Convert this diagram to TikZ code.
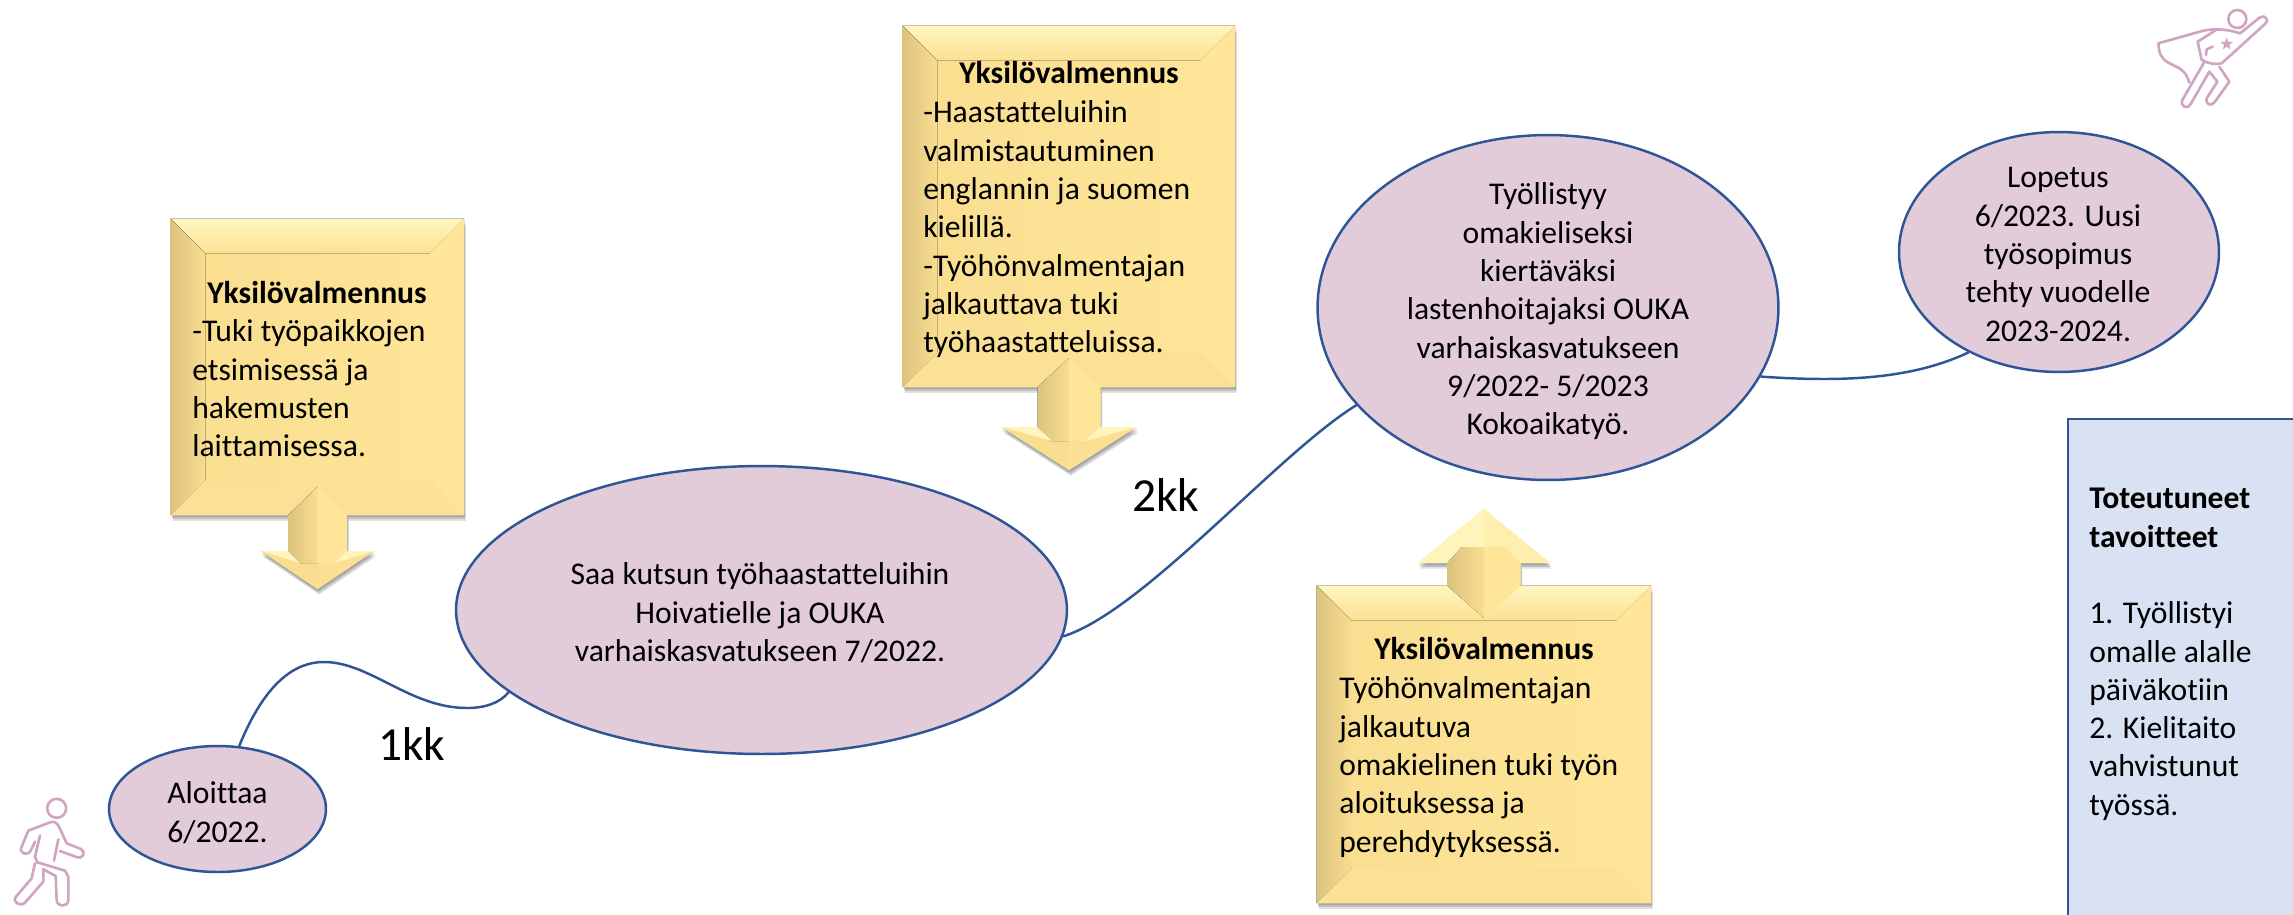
\documentclass[tikz,border=0pt]{standalone}
\usepackage{fontspec}
\setmainfont[Ligatures=NoCommon]{Carlito}
\usepackage{tikz}
\usetikzlibrary{
        shadows,
        shapes,
        calc,
        positioning
    }
\definecolor{boxbase}{HTML}{F9DE90}
\definecolor{bevellight}{HTML}{FFF6C0}
\definecolor{beveldark}{HTML}{DCC37E}
\definecolor{bevelright}{HTML}{FEE598}
\definecolor{bevelbottom}{HTML}{FAE196}
\definecolor{wingface}{HTML}{FFF4BC}
\definecolor{ovalfill}{HTML}{E3CCDA}
\definecolor{linkblue}{HTML}{2F5597}
\definecolor{goalfill}{HTML}{D9E2F3}
\definecolor{iconpink}{HTML}{CFA5C2}

\newcommand{\firstline}{\rule{0pt}{16.8pt}}
\newcommand{\bevelbox}[1]{
    \fill[top color=bevellight, bottom color=boxbase!60!bevelright] (#1.north west) -- (#1.north east) -- ($(#1.north east)+(-35,35)$) -- ($(#1.north west)+(35,35)$) -- cycle;
    \fill[left color=beveldark, right color=boxbase] (#1.north west) -- ($(#1.north west)+(35,35)$) -- ($(#1.south west)+(35,-35)$) -- (#1.south west) -- cycle;
    \fill[bevelright] (#1.north east) -- ($(#1.north east)+(-35,35)$) -- ($(#1.south east)+(-35,-35)$) -- (#1.south east) -- cycle;
    \fill[bevelbottom] (#1.south west) -- ($(#1.south west)+(35,-35)$) -- ($(#1.south east)+(-35,-35)$) -- (#1.south east) -- cycle;
}
% centre, shaft, edge, wing line, wing, tip
\newcommand{\arrowshade}[6]{
    \fill[boxbase, softshadow] (#1+#2,#3) -- (#1+#2,#4) -- (#1+#5,#4) -- (#1,#6) -- (#1-#5,#4) -- (#1-#2,#4) -- (#1-#2,#3) -- cycle;
}
% centre, notch, shaft, edge, wing line, wing, tip, roof, head colour
\newcommand{\bevelarrow}[9]{
    \fill[#9] (#1,#7) -- (#1-#6,#5) -- (#1,#5) -- cycle;
    \fill[#9!65!bevelright] (#1,#7) -- (#1+#6,#5) -- (#1,#5) -- cycle;
    \fill[left color=beveldark, right color=boxbase] (#1,#2) -- (#1,#8) -- (#1-#3*0.6,#8) -- (#1-#3,#5) -- (#1-#3,#4) -- cycle;
    \fill[bevelright] (#1,#2) -- (#1,#8) -- (#1+#3*0.6,#8) -- (#1+#3,#5) -- (#1+#3,#4) -- cycle;
}

\begin{document}
\begin{tikzpicture}
[x=0.02cm, y=-0.02cm,
softshadow/.style={
    drop shadow={shadow xshift=0.4pt, shadow yshift=-1.2pt, opacity=.14, fill=black},
    drop shadow={shadow xshift=0.7pt, shadow yshift=-2.2pt, opacity=.14, fill=black},
    drop shadow={shadow xshift=1pt, shadow yshift=-3.2pt, opacity=.12, fill=black}},
oval/.style={ellipse, draw=linkblue, line width=1.4pt, fill=ovalfill, inner sep=0pt},
yellowbox/.style={rectangle, left color=boxbase, right color=bevelright, inner sep=0pt, softshadow},
goalbox/.style={rectangle, draw=linkblue, line width=1.4pt, fill=goalfill, inner sep=0pt, minimum width=5cm, minimum height=10.44cm},
bodytext/.style={inner sep=0pt, anchor=north west, align=left, font=\fontsize{18}{21.8}\selectfont},
ovaltext/.style={inner sep=0pt, anchor=north, align=center, font=\fontsize{18}{21.8}\selectfont},
headtext/.style={ovaltext, font=\fontsize{18}{21.8}\selectfont\bfseries},
timetext/.style={inner sep=0pt, anchor=base west, font=\fontsize{27}{30}\selectfont},
link/.style={draw=linkblue, line width=1.4pt},
icon/.style={draw=iconpink, line width=1.5pt, line join=round, line cap=round},
]

    \clip (0,0) rectangle (2293,914);
    \fill[white] (0,0) rectangle (2293,914);

    \node (step0) at (217.5,809) [oval, minimum width=4.34cm, minimum height=2.52cm] {};
    \node (step1) at (761.5,610) [oval, minimum width=12.22cm, minimum height=5.76cm] {};
    \node (step2) at (1548,307.5) [oval, minimum width=9.22cm, minimum height=6.9cm] {};
    \node (step3) at (2059,252) [oval, minimum width=6.4cm, minimum height=4.8cm] {};

    \draw[link] (step0.71) .. controls (262,690) and (290,662) .. (324,662) .. controls (370,662) and (410,708) .. (467,708) .. controls (485,708) and (500,703) .. (step1.198.6);
    \draw[link] (step1.-5.5) .. controls (1144,611) and (1277,454) .. (step2.207.4);
    \draw[link] (step2.-18.4) .. controls (1840,382) and (1910,380) .. (step3.228);

    \arrowshade{317.5}{29.5}{515}{551}{56.5}{589}
    \node (coach0) at (317.5,367) [yellowbox, minimum width=5.86cm, minimum height=5.92cm] {};
    \bevelbox{coach0}
    \bevelarrow{317.5}{487}{29.5}{515}{551}{56.5}{589}{563}{boxbase}
    \fill[wingface] (261,551) -- (288,551) -- (300,563) -- cycle;
    \fill[wingface] (374,551) -- (347,551) -- (335,563) -- cycle;

    \arrowshade{1069}{31.5}{387}{427}{67.5}{470}
    \node (coach1) at (1069,206.5) [yellowbox, minimum width=6.64cm, minimum height=7.22cm] {};
    \bevelbox{coach1}
    \bevelarrow{1069}{358}{31.5}{387}{427}{67.5}{470}{441}{boxbase}
    \fill[wingface] (1002,427) -- (1037,427) -- (1052,441) -- cycle;
    \fill[wingface] (1137,427) -- (1100,427) -- (1085,441) -- cycle;

    \arrowshade{1484}{36.5}{586}{563}{66}{509}
    \node (coach2) at (1484,744.5) [yellowbox, minimum width=6.68cm, minimum height=6.34cm] {};
    \bevelbox{coach2}
    \bevelarrow{1484}{618}{36.5}{586}{563}{66}{509}{547}{wingface}

    \node (goals) at (2193,680) [goalbox] {};

    \node (step0text) at (217.5,774) [ovaltext] {\firstline Aloittaa\\6/2022.};
    \node (step1text) at (760,555) [ovaltext] {\firstline Saa kutsun työhaastatteluihin\\Hoivatielle ja OUKA\\varhaiskasvatukseen 7/2022.};
    \node (step2text) at (1548,175) [ovaltext] {\firstline Työllistyy\\omakieliseksi\\kiertäväksi\\lastenhoitajaksi OUKA\\varhaiskasvatukseen\\9/2022- 5/2023\\Kokoaikatyö.};
    \node (step3text) at (2058,158) [ovaltext] {\firstline Lopetus\\6/2023. Uusi\\työsopimus\\tehty vuodelle\\2023-2024.};

    \node (coach0head) at (317,274) [headtext] {\firstline Yksilövalmennus};
    \node (coach0text) at (192,312) [bodytext] {\firstline -Tuki työpaikkojen\\etsimisessä ja\\hakemusten\\laittamisessa.};
    \node (coach1head) at (1069,54) [headtext] {\firstline Yksilövalmennus};
    \node (coach1text) at (923,93) [bodytext] {\firstline -Haastatteluihin\\valmistautuminen\\englannin ja suomen\\kielillä.\\-Työhönvalmentajan\\jalkauttava tuki\\työhaastatteluissa.};
    \node (coach2head) at (1484,630) [headtext] {\firstline Yksilövalmennus};
    \node (coach2text) at (1339,669) [bodytext] {\firstline Työhönvalmentajan\\jalkautuva\\omakielinen tuki työn\\aloituksessa ja\\perehdytyksessä.};

    \node (goalstext) at (2089,479) [bodytext] {\firstline\textbf{Toteutuneet}\\\textbf{tavoitteet}\\\mbox{}\\1. Työllistyi\\omalle alalle\\päiväkotiin\\2. Kielitaito\\vahvistunut\\työssä.};

    \node (month1) at (378,760) [timetext] {1kk};
    \node (month2) at (1132,511) [timetext] {2kk};

    \begin{scope}[shift={(0,700)}, x=0.00667cm, y=-0.00667cm]
        \draw[icon] (170,325) circle [radius=0.19cm];
        \draw[icon] (120,407) -- (105,470) -- (112,487) -- (195,512) -- (205,530) -- (205,600) .. controls (205,622) and (170,622) .. (170,600) -- (167,528) -- (130,508) -- (130,545) -- (75,608) .. controls (60,622) and (35,605) .. (48,590) -- (95,535) -- (105,490);
        \draw[icon] (105,425) -- (92,452) .. controls (82,470) and (55,460) .. (65,440) -- (85,392) -- (150,367) .. controls (165,362) and (172,370) .. (178,382) -- (200,430) -- (243,447) .. controls (258,455) and (250,478) .. (232,472) -- (180,453);
        \draw[icon] (175,418) -- (162,482);
    \end{scope}

    \begin{scope}[shift={(2100,0)}, x=0.00667cm, y=-0.00667cm]
        \draw[icon] (412,57) circle [radius=0.18cm];
        \draw[icon] (268,248) .. controls (255,205) and (235,205) .. (205,188) .. controls (180,172) and (178,160) .. (175,130) -- (310,92) .. controls (345,85) and (385,88) .. (420,100) -- (480,52) .. controls (495,42) and (510,62) .. (495,72) -- (365,190) .. controls (345,195) and (325,190) .. (305,180) -- (293,125) -- (345,92);
        \draw[icon] (318,165) -- (320,148) -- (338,140);
        \draw[icon] (312,188) -- (247,300) .. controls (240,320) and (262,330) .. (272,312) -- (328,215) -- (352,245) -- (320,295) .. controls (315,315) and (335,320) .. (345,305) -- (388,245) -- (358,200);
        \node (star) at (380,132) [star, star points=5, star point ratio=2.4, fill=iconpink, inner sep=0pt, minimum size=0.26cm] {};
    \end{scope}
\end{tikzpicture}
\end{document}
